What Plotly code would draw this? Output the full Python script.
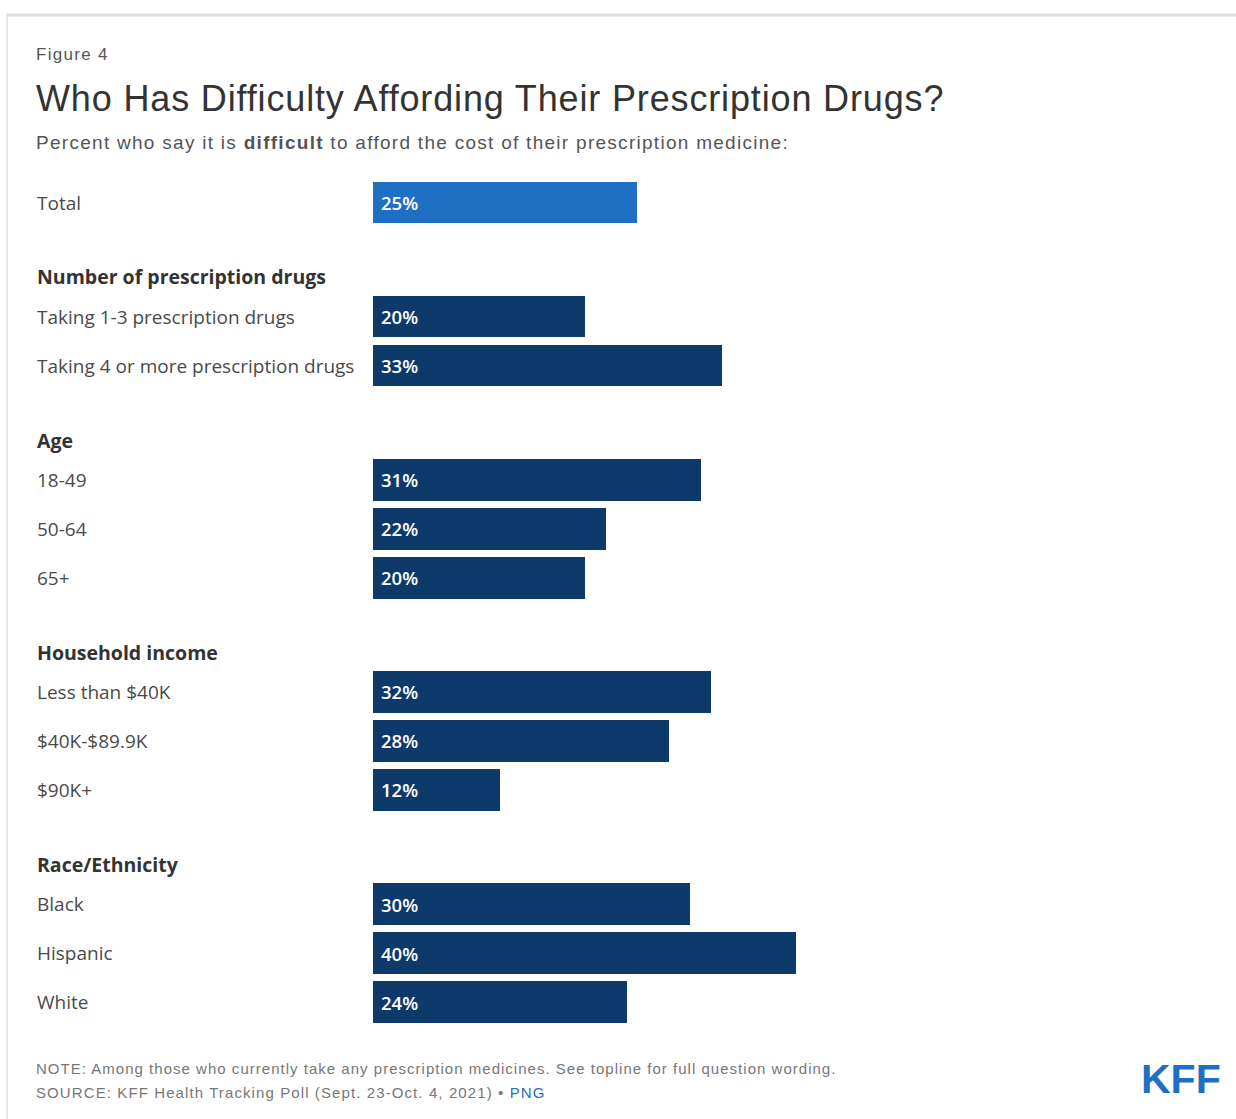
import plotly.graph_objects as go

# Survey results: share who say affording prescription medicine is difficult
total_label = "Total"
total_value = 25

groups = [
    "Number of prescription drugs",
    "Age",
    "Household income",
    "Race/Ethnicity",
]
group_labels = [
    ["Taking 1-3 prescription drugs", "Taking 4 or more prescription drugs"],
    ["18-49", "50-64", "65+"],
    ["Less than $40K", "$40K-$89.9K", "$90K+"],
    ["Black", "Hispanic", "White"],
]
group_values = [
    [20, 33],
    [31, 22, 20],
    [32, 28, 12],
    [30, 40, 24],
]

W, H = 1236, 1119
ML, MR, MT, MB = 373, 17, 178, 91
PLOT_W = W - ML - MR
PLOT_H = H - MT - MB

GROUP_GAP = 2.33      # distance from last row of a group to first row of the next
HEADER_OFFSET = 0.81  # header sits this far above a group's first row

TOTAL_BLUE = "#1f6fc4"
NAVY = "#0e3a6b"
LABEL_COLOR = "#4a4a4a"
FONT = "'Open Sans', Lato, Arial, sans-serif"
ARIAL = "'Liberation Sans', Arial, sans-serif"


def px_x(px):
    return (px - ML) / PLOT_W


def px_y(py):
    return (H - MB - py) / PLOT_H


def spaced(text, px):
    return f"<span style='letter-spacing:{px}px'>{text}</span>"


# Row positions: total first, then each group after a gap
ys, xs, names, colors = [0.0], [total_value], [total_label], [TOTAL_BLUE]
header_pos = []
pos = 0.0
for g, labels, vals in zip(groups, group_labels, group_values):
    pos += GROUP_GAP
    header_pos.append(pos - HEADER_OFFSET)
    for i, (lab, v) in enumerate(zip(labels, vals)):
        if i > 0:
            pos += 1.0
        ys.append(pos)
        xs.append(v)
        names.append(lab)
        colors.append(NAVY)

fig = go.Figure(
    go.Bar(
        x=xs,
        y=ys,
        orientation="h",
        width=0.85,
        marker=dict(color=colors, line=dict(width=0)),
        hoverinfo="skip",
    )
)

annotations = []
# Value labels inside the bars
for yv, v in zip(ys, xs):
    annotations.append(dict(
        x=0, xref="x", y=yv, yref="y", xanchor="left", yanchor="middle", xshift=6,
        text=f"{v}%", showarrow=False,
        font=dict(size=18.5, color="white", family=FONT, weight=600),
    ))
# Row labels
for yv, lab in zip(ys, names):
    annotations.append(dict(
        x=px_x(35), xref="paper", y=yv, yref="y", xanchor="left", yanchor="middle",
        text=lab, showarrow=False, font=dict(size=19, color=LABEL_COLOR, family=FONT),
    ))
# Group headers
for yv, g in zip(header_pos, groups):
    annotations.append(dict(
        x=px_x(35), xref="paper", y=yv, yref="y", xanchor="left", yanchor="middle",
        text=f"<b>{g}</b>", showarrow=False, font=dict(size=19.5, color="#333333", family=FONT),
    ))

# Header block
annotations += [
    dict(x=px_x(34), xref="paper", y=px_y(55), yref="paper", xanchor="left", yanchor="middle",
         text=spaced("Figure 4", 1.3), showarrow=False,
         font=dict(size=17, color="#555555", family=ARIAL)),
    dict(x=px_x(34), xref="paper", y=px_y(99), yref="paper", xanchor="left", yanchor="middle",
         text=spaced("Who Has Difficulty Affording Their Prescription Drugs?", 0.85), showarrow=False,
         font=dict(size=36, color="#333333", family=ARIAL)),
    dict(x=px_x(34), xref="paper", y=px_y(143), yref="paper", xanchor="left", yanchor="middle",
         text=spaced("Percent who say it is <b>difficult</b> to afford the cost of their prescription medicine:", 1.28),
         showarrow=False, font=dict(size=19, color="#555555", family=ARIAL)),
    # Notes
    dict(x=px_x(34), xref="paper", y=px_y(1068), yref="paper", xanchor="left", yanchor="middle",
         text=spaced("NOTE: Among those who currently take any prescription medicines. See topline for full question wording.", 1.02),
         showarrow=False, font=dict(size=15, color="#777777", family=ARIAL)),
    dict(x=px_x(34), xref="paper", y=px_y(1092), yref="paper", xanchor="left", yanchor="middle",
         text=spaced("SOURCE: KFF Health Tracking Poll (Sept. 23-Oct. 4, 2021) • <span style='color:#1f6fc4'>PNG</span>", 1.1),
         showarrow=False, font=dict(size=15, color="#777777", family=ARIAL)),
    # Logo
    dict(x=px_x(1223), xref="paper", y=px_y(1079), yref="paper", xanchor="right", yanchor="middle",
         text="<b>KFF</b>", showarrow=False,
         font=dict(size=41, color="#1f6fc4", family="'Liberation Sans Narrow', 'Liberation Sans', Arial")),
]

shapes = [
    dict(type="line", xref="paper", yref="paper", x0=px_x(6), x1=px_x(1236),
         y0=px_y(15), y1=px_y(15), line=dict(color="#dddddd", width=3)),
    dict(type="line", xref="paper", yref="paper", x0=px_x(7), x1=px_x(7),
         y0=px_y(15), y1=px_y(1119), line=dict(color="#e6e6e6", width=2)),
]

fig.update_layout(
    width=W, height=H,
    margin=dict(l=ML, r=MR, t=MT, b=MB, pad=0),
    paper_bgcolor="white", plot_bgcolor="white",
    showlegend=False,
    xaxis=dict(range=[0, 80], visible=False, fixedrange=True),
    yaxis=dict(range=[16.85, -0.5], visible=False, fixedrange=True),
    annotations=annotations,
    shapes=shapes,
    bargap=0,
)

fig.write_html("out.html", include_plotlyjs=True, config={"displayModeBar": False})
